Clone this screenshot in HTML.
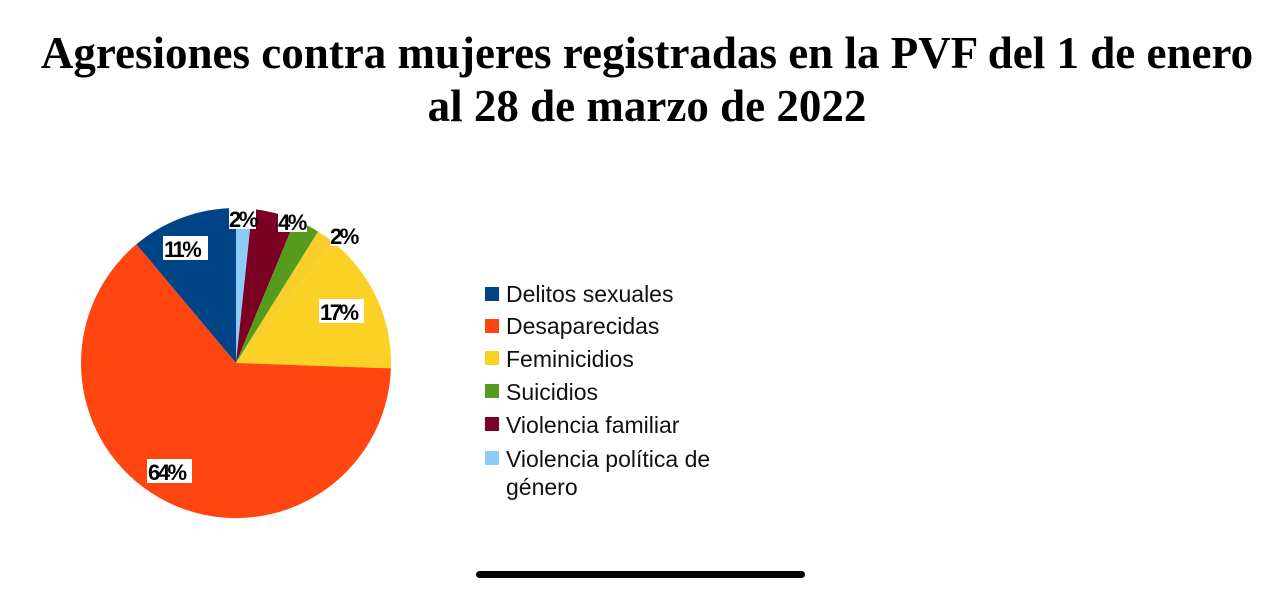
<!DOCTYPE html>
<html><head><meta charset="utf-8"><style>
html,body{margin:0;padding:0;background:#fff;width:1280px;height:591px;overflow:hidden}
.t{position:absolute;left:0;width:1294px;text-align:center;font-family:"Liberation Serif",serif;font-weight:bold;font-size:45px;color:#000;white-space:nowrap}
</style></head><body>
<div class="t" style="top:27px">Agresiones contra mujeres registradas en la PVF del 1 de enero</div>
<div class="t" style="top:80px;width:1294px">al 28 de marzo de 2022</div>
<svg width="1280" height="591" style="position:absolute;left:0;top:0" font-family="Liberation Sans, sans-serif">
<path d="M236,363 L236,208 A155,155 0 0 1 252.2,208.9 Z" fill="#8ccbf5"/>
<path d="M236,363 L252.2,208.9 A155,155 0 0 1 295.3,219.8 Z" fill="#7b0024"/>
<path d="M236,363 L295.3,219.8 A155,155 0 0 1 318.1,231.6 Z" fill="#559c1e"/>
<path d="M236,363 L318.1,231.6 A155,155 0 0 1 333.5,242.5 Z" fill="#f8cf2a"/>
<path d="M236,363 L333.5,242.5 A155,155 0 0 1 390.9,368.4 Z" fill="#fbd125"/>
<path d="M236,363 L390.9,368.4 A155,155 0 1 1 136.4,244.3 Z" fill="#ff4510"/>
<path d="M236,363 L136.4,244.3 A155,155 0 0 1 236,208 Z" fill="#004488"/>
<g font-size="22" font-weight="bold" letter-spacing="-2.5">
<rect x="229" y="206" width="27" height="23" fill="#fff"/><text x="229" y="227">2%</text>
<rect x="278" y="209" width="29" height="23" fill="#fff"/><text x="278" y="230">4%</text>
<rect x="330" y="223" width="28" height="23" fill="#fff"/><text x="330" y="244">2%</text>
<rect x="163" y="236" width="45" height="24" fill="#fff"/><text x="164" y="257">11%</text>
<rect x="319" y="299" width="45" height="24" fill="#fff"/><text x="320" y="320">17%</text>
<rect x="147" y="459" width="45" height="24" fill="#fff"/><text x="148" y="480">64%</text>
</g>
<g font-size="23" fill="#111">
<rect x="485" y="287" width="14" height="14" fill="#004488"/><text x="506" y="302">Delitos sexuales</text>
<rect x="485" y="319" width="14" height="14" fill="#ff4510"/><text x="506" y="334">Desaparecidas</text>
<rect x="485" y="351" width="14" height="14" fill="#fbd125"/><text x="506" y="367">Feminicidios</text>
<rect x="485" y="384" width="14" height="14" fill="#559c1e"/><text x="506" y="400">Suicidios</text>
<rect x="485" y="417" width="14" height="14" fill="#7b0024"/><text x="506" y="433">Violencia familiar</text>
<rect x="485" y="451" width="14" height="14" fill="#8ccbf5"/><text x="506" y="467">Violencia política de</text>
<text x="506" y="495">género</text>
</g>
<rect x="476" y="571" width="329" height="7" rx="3.5" fill="#000"/>
</svg>
</body></html>
